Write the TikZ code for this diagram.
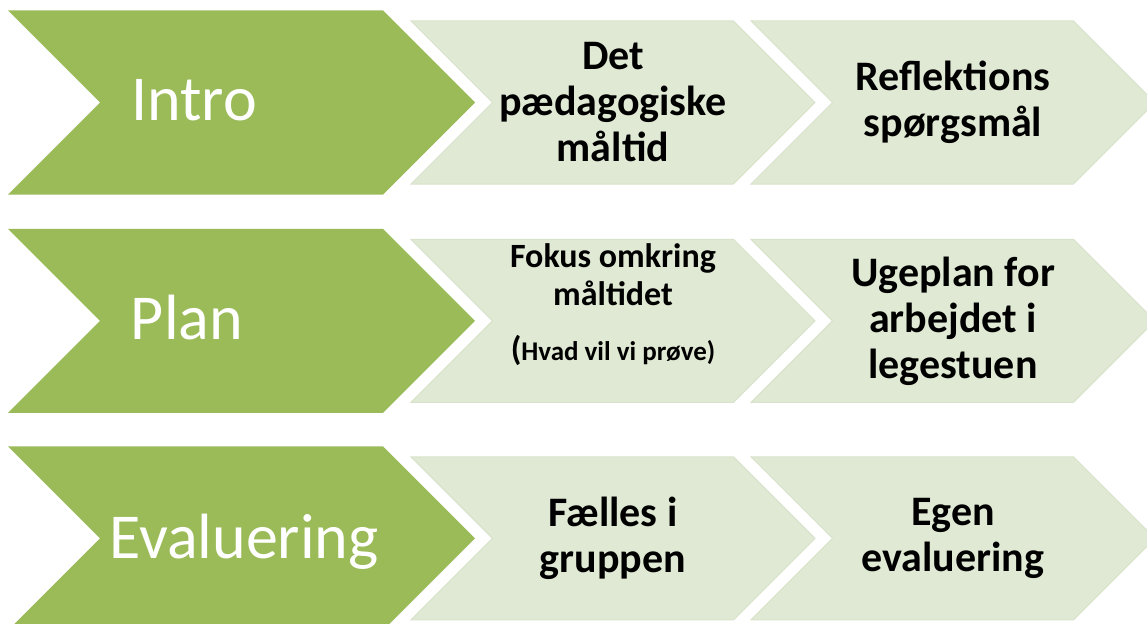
\documentclass[tikz,border=0pt]{standalone}
\usepackage{fontspec}
\setmainfont{Carlito}
\usetikzlibrary{shapes.symbols, positioning}
\definecolor{olive}{HTML}{9BBB59}
\definecolor{palegreen}{HTML}{E0E9D4}
\definecolor{paleedge}{HTML}{D9E3CB}

\begin{document}
\begin{tikzpicture}[
    x=1pt, y=-1pt,
    % Define the style for each block
    mainstep/.style={signal, signal from=west, signal to=east, signal pointer angle=90, fill=olive, minimum width=467pt, minimum height=184pt, inner sep=0pt},
    substep/.style={signal, signal from=west, signal to=east, signal pointer angle=90, fill=palegreen, draw=paleedge, line width=1pt, minimum width=404pt, minimum height=163pt, inner sep=0pt, align=center, font=\fontsize{42}{46}\selectfont\bfseries},
    maintext/.style={anchor=base, inner sep=0pt, text=white, font=\fontsize{64}{64}\selectfont},
    node distance=2cm
]
\useasboundingbox (0,0) rectangle (1147,623);

% Green chevrons, one per row
\node [mainstep] (intro) at (241.5,102.5) {};
\node [mainstep, below=34pt of intro] (plan) {};
\node [mainstep, below=33pt of plan] (evaluering) {};

\node [maintext] (introtext) at ([xshift=-47.5pt, yshift=-18.5pt]intro.center) {Intro};
\node [maintext] (plantext) at ([xshift=-54.5pt, yshift=-18.5pt]plan.center) {Plan};
\node [maintext] (evaltext) at ([xshift=2.5pt, yshift=-20.5pt]evaluering.center) {Evaluering};

% Light chevrons
\node [substep] (maaltid) at ([xshift=371.5pt]intro.center) {Det\\ pædagogiske\\ måltid};
\node [substep] (refleksion) at ([xshift=340pt]maaltid.center) {Reflektions\\ spørgsmål};

\node [substep, font=\fontsize{34}{38}\selectfont\bfseries] (fokus) at ([xshift=371.5pt]plan.center) {Fokus omkring\\ måltidet\\[17pt] ({\fontsize{27}{30}\selectfont Hvad vil vi prøve)}\rule[-37pt]{0pt}{1pt}};
\node [substep] (ugeplan) at ([xshift=340pt]fokus.center) {Ugeplan for\\ arbejdet i\\ legestuen};

\node [substep] (faelles) at ([xshift=371.5pt]evaluering.center) {Fælles i\\ gruppen};
\node [substep] (egen) at ([xshift=340pt]faelles.center) {Egen\\ evaluering};
\end{tikzpicture}
\end{document}
